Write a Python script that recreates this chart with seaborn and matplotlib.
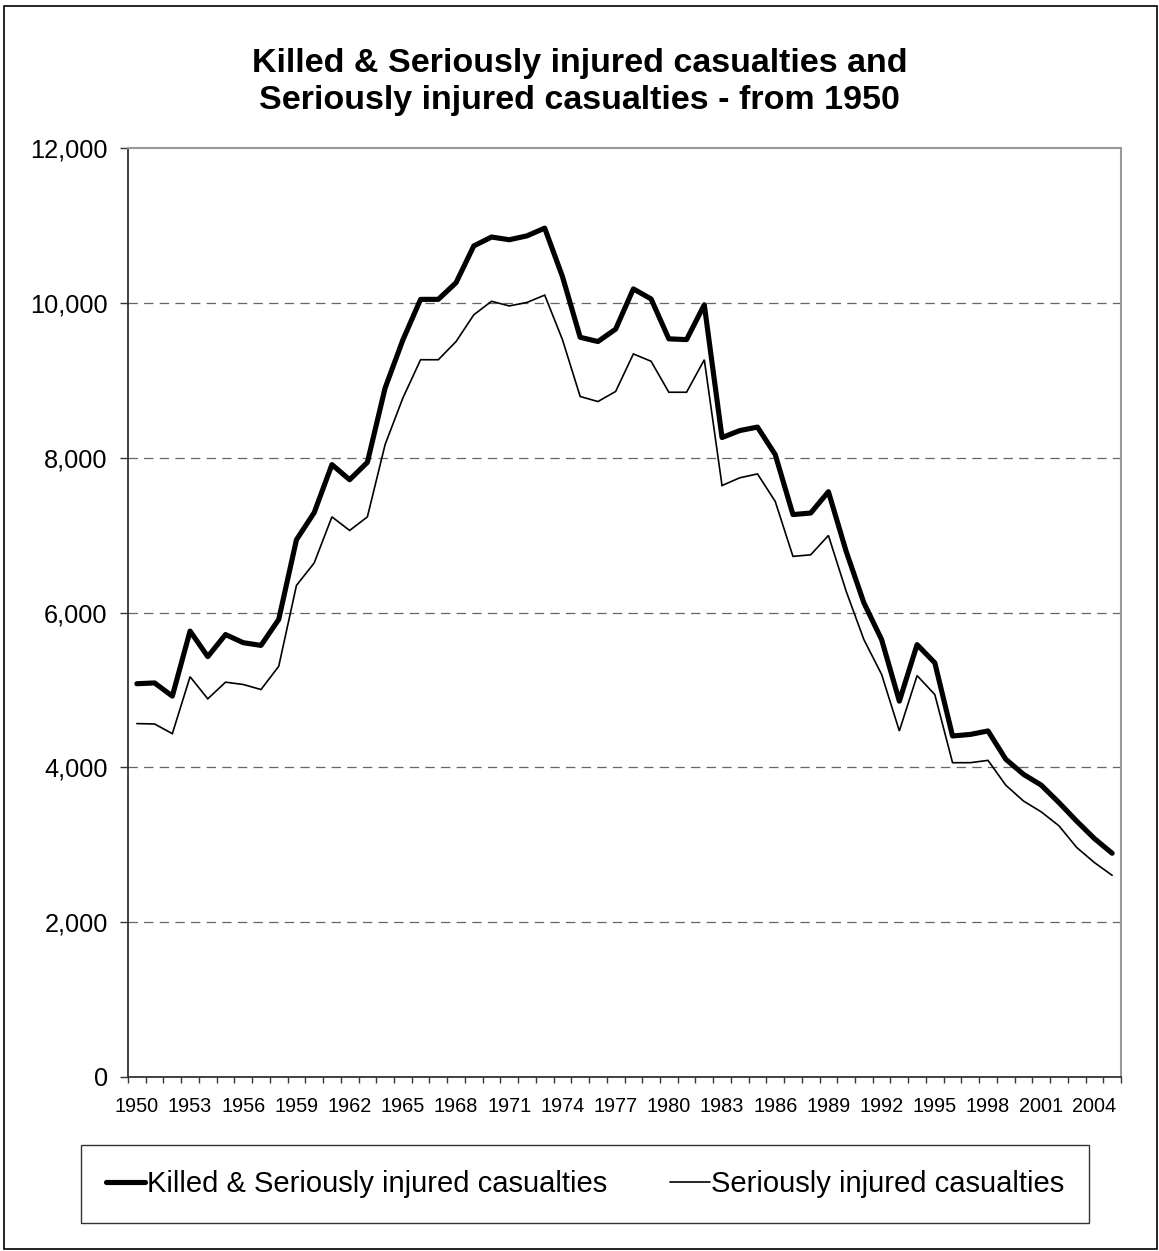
import matplotlib
matplotlib.use("Agg")
import matplotlib.pyplot as plt
import matplotlib.ticker as mticker
from matplotlib.patches import Rectangle
import pandas as pd
import seaborn as sns

# Annual casualty counts, 1950-2005
years = list(range(1950, 2006))

ksi = [5080, 5090, 4920, 5760, 5430, 5715, 5610, 5575, 5910, 6940,
       7290, 7910, 7715, 7940, 8900, 9520, 10045, 10045, 10260, 10735,
       10850, 10815, 10865, 10965, 10340, 9555, 9500, 9660, 10180, 10050,
       9535, 9525, 9975, 8260, 8350, 8395, 8040, 7265, 7285, 7560,
       6790, 6125, 5650, 4855, 5585, 5350, 4405, 4425, 4470, 4105,
       3910, 3770, 3545, 3305, 3080, 2890]

serious = [4565, 4560, 4435, 5170, 4885, 5100, 5070, 5005, 5305, 6350,
           6640, 7235, 7060, 7235, 8170, 8770, 9265, 9265, 9500, 9845,
           10020, 9960, 10005, 10100, 9525, 8790, 8725, 8855, 9340, 9245,
           8845, 8845, 9265, 7640, 7740, 7790, 7435, 6725, 6745, 6995,
           6275, 5650, 5200, 4470, 5185, 4940, 4060, 4060, 4090, 3770,
           3565, 3425, 3245, 2965, 2770, 2605]

label_ksi = "Killed & Seriously injured casualties"
label_si = "Seriously injured casualties"
title = "Killed & Seriously injured casualties and\nSeriously injured casualties - from 1950"

df = pd.DataFrame({"idx": range(len(years)), "year": years,
                   "ksi": ksi, "serious": serious})

sns.set_style("white")
plt.rcParams["font.family"] = ["Liberation Sans", "DejaVu Sans"]
plt.rcParams["text.color"] = "black"
plt.rcParams["xtick.color"] = "black"
plt.rcParams["ytick.color"] = "black"

W, H = 1159, 1251
fig = plt.figure(figsize=(W / 100, H / 100), dpi=100)
fig.patch.set_facecolor("white")

# plot area in pixel coordinates
left, right, top, bottom = 128, 1121, 148, 1077
ax = fig.add_axes([left / W, 1 - bottom / H, (right - left) / W, (bottom - top) / H])

sns.lineplot(data=df, x="idx", y="ksi", ax=ax, color="black", linewidth=3.7,
             label=label_ksi, solid_joinstyle="round", solid_capstyle="round")
sns.lineplot(data=df, x="idx", y="serious", ax=ax, color="black", linewidth=1.2,
             label=label_si, solid_joinstyle="miter")
if ax.get_legend() is not None:
    ax.get_legend().remove()

ax.set_xlim(-0.5, len(years) - 0.5)
ax.set_ylim(0, 12000)
ax.set_xlabel("")
ax.set_ylabel("")

# y axis
ax.yaxis.set_major_locator(mticker.MultipleLocator(2000))
ax.yaxis.set_major_formatter(mticker.FuncFormatter(lambda v, p: f"{int(v):,}"))
ax.tick_params(axis="y", which="major", direction="out", length=5.8, width=1.0,
               color="#333333", labelcolor="black", labelsize=18.3, pad=8.8, left=True)
for v in range(2000, 12000, 2000):
    ax.axhline(v, color="#666666", linewidth=0.9, linestyle=(0, (7.5, 5.0)), zorder=0)

# x axis: labels every third year at category centres, ticks at category edges
lab_pos = list(range(0, len(years), 3))
ax.set_xticks(lab_pos)
ax.set_xticklabels([str(years[i]) for i in lab_pos])
ax.xaxis.set_minor_locator(mticker.FixedLocator([i - 0.5 for i in range(len(years) + 1)]))
ax.tick_params(axis="x", which="major", length=0, labelsize=14.3, labelcolor="black",
               pad=14.5, bottom=True)
ax.tick_params(axis="x", which="minor", direction="out", length=4.5, width=1.0,
               color="#333333", bottom=True)

for side in ["left", "bottom"]:
    ax.spines[side].set_color("#333333")
    ax.spines[side].set_linewidth(1.3)
for side in ["top", "right"]:
    ax.spines[side].set_visible(True)
    ax.spines[side].set_color("#999999")
    ax.spines[side].set_linewidth(1.5)

# title
fig.text(0.5, 1 - 82 / H, title, ha="center", va="center", fontsize=24.5,
         fontweight="bold", linespacing=1.28, color="black")

# legend
handles, labels = ax.get_legend_handles_labels()
leg = fig.legend(handles, labels, ncol=2, mode="expand",
                 bbox_to_anchor=(81 / W, 1 - 1222 / H, (1089 - 81) / W, 76 / H),
                 loc="center", fontsize=21, frameon=True, fancybox=False,
                 edgecolor="black", handlelength=1.35, handletextpad=0.05,
                 borderpad=0.85, borderaxespad=0.0)
leg.get_frame().set_linewidth(1.0)
for t in leg.get_texts():
    t.set_color("black")

# outer chart border
fig.patches.append(Rectangle((4 / W, 1 - 1249 / H), 1153 / W, 1243 / H,
                             transform=fig.transFigure, fill=False,
                             edgecolor="black", linewidth=1.2))

fig.savefig("out.png", dpi=100, facecolor="white")
